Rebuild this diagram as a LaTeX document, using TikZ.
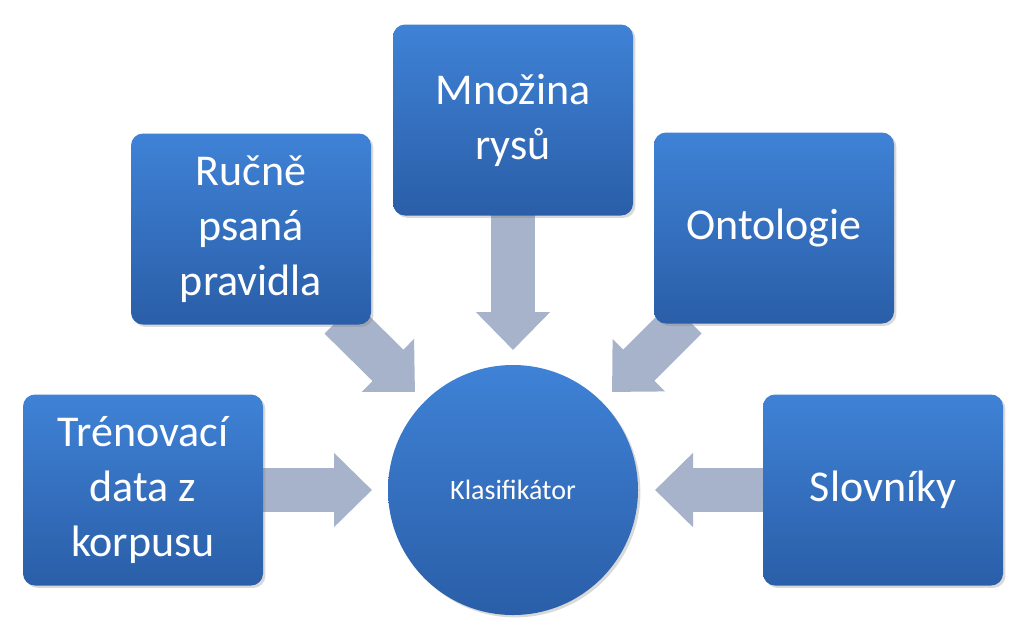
\documentclass[tikz,border=0pt]{standalone}
\usepackage{fontspec}
\setmainfont{Carlito}
\usetikzlibrary{arrows.meta,shadows}
\definecolor{boxtop}{HTML}{3F82D6}
\definecolor{boxbot}{HTML}{2A5EA8}
\definecolor{arrcol}{HTML}{A7B3CA}
\tikzset{
  boxnode/.style={rectangle, rounded corners=12pt, minimum width=240pt, minimum height=191pt,
    top color=boxtop, bottom color=boxbot, draw=none, text=white, align=center,
    font=\fontsize{44}{55}\selectfont, drop shadow={opacity=0.3}},
  hubnode/.style={circle, minimum size=250pt, top color=boxtop, bottom color=boxbot,
    text=white, font=\fontsize{28}{34}\selectfont, drop shadow={opacity=0.3}},
  blockarrow/.style={draw=arrcol, line width=44pt, -{Triangle[width=72pt,length=38pt]}}
}
\begin{document}
\begin{tikzpicture}[x=1pt,y=-1pt]
\useasboundingbox (0,0) rectangle (1024,641);
% arrows first
\coordinate (tmn) at (513,215);  \coordinate (hmn) at (513,350);
\coordinate (trp) at (340,318);  \coordinate (hrp) at (415,392);
\coordinate (ton) at (686,318);  \coordinate (hon) at (612,392);
\coordinate (ttd) at (263,490);  \coordinate (htd) at (372,490);
\coordinate (tsl) at (764,490);  \coordinate (hsl) at (655,490);
\draw[blockarrow] (tmn) -- (hmn);
\draw[blockarrow] (trp) -- (hrp);
\draw[blockarrow] (ton) -- (hon);
\draw[blockarrow] (ttd) -- (htd);
\draw[blockarrow] (tsl) -- (hsl);
% nodes
\node[hubnode] (klas) at (513,490) {Klasifikátor};
\node[boxnode] (mnozina) at (513,120) {Množina\\rysů};
\node[boxnode] (rucne) at (251,229) {Ručně\\psaná\\pravidla};
\node[boxnode] (onto) at (774,228) {Ontologie};
\node[boxnode] (trenink) at (143,490) {Trénovací\\data z\\korpusu};
\node[boxnode] (slovniky) at (883,490) {Slovníky};
\end{tikzpicture}
\end{document}
